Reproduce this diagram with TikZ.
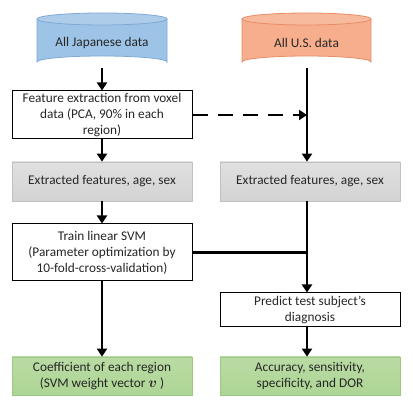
\documentclass[tikz,border=0pt]{standalone}
\usepackage{fontspec}
\setmainfont{Carlito}
\usepackage{bm}
\usetikzlibrary{arrows.meta}
\definecolor{bluefill}{HTML}{9DC3E6}
\definecolor{bluedraw}{HTML}{7FA9D6}
\definecolor{orfill}{HTML}{F7AE8C}
\definecolor{ordraw}{HTML}{E98C68}
\definecolor{grayfill}{HTML}{D3D3D3}
\definecolor{graydraw}{HTML}{C0C0C0}
\definecolor{greenfill}{HTML}{ADD594}
\definecolor{greendraw}{HTML}{9CC983}
\definecolor{txt}{HTML}{262626}
\begin{document}
\begin{tikzpicture}[x=1pt,y=-1pt,
  every node/.style={font=\fontsize{13.3}{16}\selectfont, text=txt, align=center},
  whitebox/.style={draw=black, line width=1pt, fill=white, minimum width=180pt, inner sep=0pt},
  graybox/.style={draw=graydraw, line width=0.8pt, top color=grayfill!70!white, bottom color=grayfill, minimum width=180pt, inner sep=0pt},
  greenbox/.style={draw=greendraw, line width=0.8pt, top color=greenfill!85!white, bottom color=greenfill, minimum width=180pt, inner sep=0pt},
  flow/.style={line width=2.6pt, -{Triangle[width=10pt,length=8pt]}},
  plain/.style={line width=2.6pt},
  dashflow/.style={line width=2.6pt, dash pattern=on 15pt off 10pt, -{Triangle[width=10pt,length=8pt]}}]
\useasboundingbox (0,0) rectangle (413,411);
% cylinders
\fill[bluefill] (37,19) -- (37,62) arc[start angle=180,end angle=360,x radius=65,y radius=6] -- (167,19) -- cycle;
\draw[bluedraw, line width=0.8pt] (37,19) -- (37,62) arc[start angle=180,end angle=360,x radius=65,y radius=6] -- (167,19);
\draw[bluedraw, line width=0.8pt, fill=bluefill!85!white] (102,19) ellipse[x radius=65,y radius=6];
\node (jp) at (102,43) {All Japanese data};
\coordinate (jpb) at (102,68);
\fill[orfill] (242,19) -- (242,62) arc[start angle=180,end angle=360,x radius=64.5,y radius=6] -- (371,19) -- cycle;
\draw[ordraw, line width=0.8pt] (242,19) -- (242,62) arc[start angle=180,end angle=360,x radius=64.5,y radius=6] -- (371,19);
\draw[ordraw, line width=0.8pt, fill=orfill!85!white] (306.5,19) ellipse[x radius=64.5,y radius=6];
\node (us) at (306.5,43) {All U.S. data};
\coordinate (usb) at (307,68);
% boxes
\node[whitebox, minimum height=48pt] (fe) at (102,115) {Feature extraction from voxel\\data (PCA, 90\% in each\\region)};
\node[graybox, minimum height=39pt] (g1) at (102,181.5) {Extracted features, age, sex};
\node[graybox, minimum height=39pt] (g2) at (310,181.5) {Extracted features, age, sex};
\node[whitebox, minimum height=57pt] (tr) at (102,252.5) {Train linear SVM\\(Parameter optimization by\\10-fold-cross-validation)};
\node[whitebox, minimum height=34pt] (pr) at (310,310) {Predict test subject’s\\diagnosis};
\node[greenbox, minimum height=38pt] (c1) at (102,376) {Coefficient of each region\\(SVM weight vector $\bm{v}$ )};
\node[greenbox, minimum height=38pt] (c2) at (310,376) {Accuracy, sensitivity,\\specificity, and DOR};
% connectors
\draw[flow] (jpb) -- (fe.north);
\draw[flow] (usb) -- (usb |- g2.north);
\draw[dashflow] (fe.east) -- (fe.east -| usb);
\draw[flow] (fe.south) -- (g1.north);
\draw[flow] (g1.south) -- (tr.north);
\draw[flow] (usb |- g2.south) -- (usb |- pr.north);
\draw[plain] (tr.east) -- (tr.east -| usb);
\draw[flow] (tr.south) -- (c1.north);
\draw[flow] (usb |- pr.south) -- (usb |- c2.north);
\end{tikzpicture}
\end{document}
